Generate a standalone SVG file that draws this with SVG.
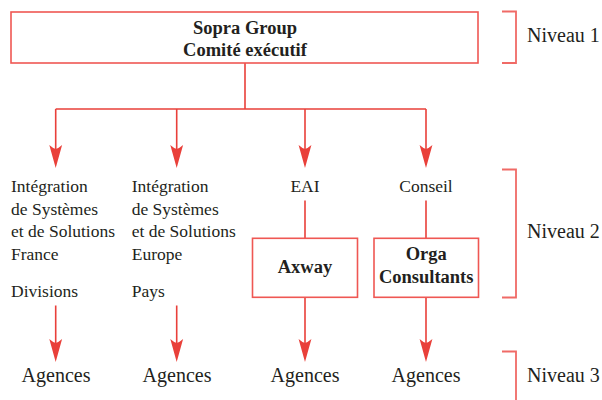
<svg xmlns="http://www.w3.org/2000/svg" width="602" height="400" viewBox="0 0 602 400">
<style>
  .box { fill: #ffffff; stroke: #ef5753; stroke-width: 1.6; }
  .ln { fill: none; stroke: #e9403a; stroke-width: 1.6; }
  .br { fill: none; stroke: #f06a66; stroke-width: 1.8; }
  .ah { fill: #e9403a; stroke: none; }
  text { font-family: "Liberation Serif", "Times New Roman", serif; fill: #231f20; }
  .t { font-size: 17.5px; }
  .b { font-size: 18.5px; font-weight: bold; }
  .ag { font-size: 20px; }
  .nv { font-size: 20px; }
</style>
<defs>
  <path id="head" d="M0,0 L-6.4,-23 Q-2.5,-19.5 0,-19 Q2.5,-19.5 6.4,-23 Z" class="ah"/>
</defs>
<rect width="602" height="400" fill="#ffffff"/>

<g id="connectors">
  <path class="ln" d="M245,63 V109 M55.7,109 H426 M55.7,109 V150 M176.7,109 V150 M305,109 V150 M426,109 V150"/>
  <use href="#head" x="55.7" y="168"/>
  <use href="#head" x="176.7" y="168"/>
  <use href="#head" x="305" y="168"/>
  <use href="#head" x="426" y="168"/>
  <path class="ln" d="M305,200.5 V238 M426,200.5 V238"/>
  <path class="ln" d="M55.7,305.5 V345 M176.7,305.5 V345 M305,297 V345 M426,297 V345"/>
  <use href="#head" x="55.7" y="362"/>
  <use href="#head" x="176.7" y="362"/>
  <use href="#head" x="305" y="362"/>
  <use href="#head" x="426" y="362"/>
</g>

<g id="sopra">
  <rect class="box" x="11" y="12" width="467" height="51"/>
  <text class="b" x="245" y="34" text-anchor="middle">Sopra Group</text>
  <text class="b" x="245" y="55.5" text-anchor="middle">Comité exécutif</text>
</g>

<g id="isf">
  <text class="t" x="11" y="191.7">Intégration</text>
  <text class="t" x="11" y="214.5">de Systèmes</text>
  <text class="t" x="11" y="237.2">et de Solutions</text>
  <text class="t" x="11" y="260">France</text>
  <text class="t" x="11" y="297.3">Divisions</text>
</g>

<g id="ise">
  <text class="t" x="131.7" y="191.7">Intégration</text>
  <text class="t" x="131.7" y="214.5">de Systèmes</text>
  <text class="t" x="131.7" y="237.2">et de Solutions</text>
  <text class="t" x="131.7" y="260">Europe</text>
  <text class="t" x="131.7" y="297.3">Pays</text>
</g>

<g id="eai">
  <text class="t" x="305" y="191.7" text-anchor="middle">EAI</text>
</g>

<g id="conseil">
  <text class="t" x="426" y="191.7" text-anchor="middle">Conseil</text>
</g>

<g id="axway">
  <rect class="box" x="252.5" y="238.3" width="105" height="59"/>
  <text class="b" x="305" y="273" text-anchor="middle">Axway</text>
</g>

<g id="orga">
  <rect class="box" x="374" y="238.3" width="104.5" height="59"/>
  <text class="b" x="426.2" y="260" text-anchor="middle">Orga</text>
  <text class="b" x="426.2" y="283" text-anchor="middle">Consultants</text>
</g>

<g id="agences">
  <text class="ag" x="56" y="382" text-anchor="middle">Agences</text>
  <text class="ag" x="177" y="382" text-anchor="middle">Agences</text>
  <text class="ag" x="305" y="382" text-anchor="middle">Agences</text>
  <text class="ag" x="426" y="382" text-anchor="middle">Agences</text>
</g>

<g id="niveaux">
  <path class="br" d="M502,11.5 H516 V63 H502"/>
  <text class="nv" x="527" y="41.7">Niveau 1</text>
  <path class="br" d="M502,169.5 H516 V297.5 H502"/>
  <text class="nv" x="527" y="238.3">Niveau 2</text>
  <path class="br" d="M502,351.5 H516 V400"/>
  <text class="nv" x="527" y="381.7">Niveau 3</text>
</g>
</svg>
